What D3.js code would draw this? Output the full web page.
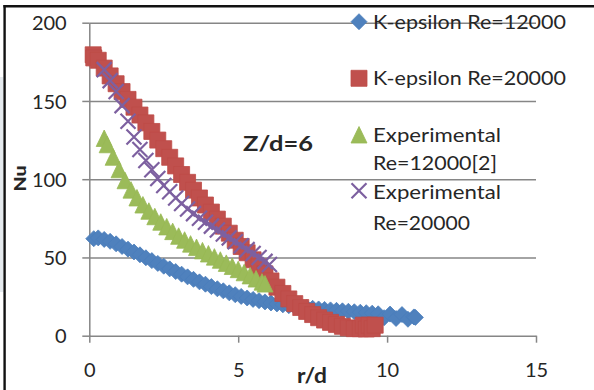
<!DOCTYPE html>
<html>
<head>
<meta charset="utf-8">
<script src="https://cdn.jsdelivr.net/npm/d3@7"></script>
<style>
  html, body { margin: 0; padding: 0; background: #fff; }
  svg { display: block; }
  text { font-family: Lato, "Open Sans", "Noto Sans", sans-serif; fill: #262626; }
</style>
</head>
<body>
<svg id="chart" width="594" height="390"></svg>
<script>
// ---- data: radial Nusselt number distributions, Z/d = 6 ----
const xTickValues = [0, 5, 10, 15];
const yTickValues = [0, 50, 100, 150, 200];
const xTitle = "r/d";
const yTitle = "Nu";
const noteText = "Z/d=6";

// K-epsilon, Re = 12000  [r/d, Nu]
const kEps12000 = [
  [0.15,62],[0.3,62.5],[0.5,61.5],[0.7,60.3],[0.9,58.7],[1.1,57],[1.3,55.3],[1.5,53.5],
  [1.7,51.7],[1.9,49.8],[2.1,48],[2.3,46.2],[2.5,44.4],[2.7,42.7],[2.9,41],[3.1,39.3],
  [3.3,37.6],[3.5,36],[3.7,34.4],[3.9,32.9],[4.1,31.4],[4.3,30],[4.5,28.7],[4.7,27.4],
  [4.9,26.2],[5.1,25.1],[5.3,24.1],[5.5,23.2],[5.7,22.4],[5.9,21.6],[6.1,20.9],[6.3,20.3],
  [6.5,19.7],[6.7,19.2],[6.9,18.7],[7.1,18.3],[7.3,17.9],[7.5,17.5],[7.7,17.1],[7.9,16.8],
  [8.1,16.5],[8.3,16.2],[8.5,15.9],[8.7,15.6],[8.9,15.3],[9.1,15],[9.3,14.7],[9.5,14.4],
  [9.7,14],[9.9,11.5],[10.1,13.8],[10.3,11],[10.5,13.5],[10.7,10.5],[10.9,12],[10.95,11.7]
];

// K-epsilon, Re = 20000
const kEps20000 = [
  [0.13,179.5],[0.15,177.5],[0.3,176],[0.5,171],[0.7,166],[0.9,161],[1.1,156],[1.3,151],
  [1.5,146],[1.7,141],[1.9,136],[2.1,130.5],[2.3,125],[2.5,119.5],[2.7,114],[2.9,108.5],
  [3.1,103],[3.3,98],[3.5,93],[3.7,88],[3.9,83.5],[4.1,79],[4.3,74.5],[4.5,70],
  [4.7,65.5],[4.9,61],[5.1,57],[5.3,53],[5.5,48.5],[5.7,44],[5.9,39.5],[6.1,35],
  [6.3,31],[6.5,27],[6.7,23.5],[6.9,20.5],[7.1,18],[7.3,15.5],[7.5,13.5],[7.7,11.5],
  [7.9,10],[8.1,8.5],[8.3,7.2],[8.5,6],[8.7,5],[8.9,4.5],[9.1,4.5],[9.2,6.7],
  [9.3,4.3],[9.4,6.7],[9.5,4.5],[9.6,6.7]
];

// Experimental, Re = 12000 [2]
const exp12000 = [
  [0.5,126],[0.6,122],[0.8,114],[1.0,106],[1.2,99],[1.4,93],[1.6,88],[1.8,83.5],
  [2.0,79.5],[2.2,76],[2.4,72.5],[2.6,69.5],[2.8,66.5],[3.0,63.5],[3.2,61],[3.4,58.5],
  [3.6,56.3],[3.8,54.2],[4.0,52.2],[4.2,50.2],[4.4,48.2],[4.6,46.2],[4.8,44.2],[5.0,42.2],
  [5.2,40.2],[5.4,38.2],[5.6,36.2],[5.8,34.2],[5.9,33]
];

// Experimental, Re = 20000
const exp20000 = [
  [0.5,170],[0.7,163],[0.9,156],[1.1,147],[1.3,137],[1.5,127],[1.7,119],[1.9,112],
  [2.1,106],[2.3,100.5],[2.5,96],[2.7,92],[2.9,88],[3.1,84.5],[3.3,81],[3.5,78],
  [3.7,75],[3.9,72.5],[4.1,70],[4.3,67.5],[4.5,65],[4.7,62.5],[4.9,60],[5.1,57.5],
  [5.3,55],[5.5,52.5],[5.7,50],[5.9,47.5],[6.05,45.5]
];

const seriesNames = [
  ["K-epsilon Re=12000"],
  ["K-epsilon Re=20000"],
  ["Experimental", "Re=12000[2]"],
  ["Experimental", "Re=20000"]
];

// ---- chart ----
const svg = d3.select("#chart");
const W = 594, H = 390;
const plot = { left: 89.3, right: 536, top: 22.7, bottom: 335.7 };

const x = d3.scaleLinear().domain([0, 15]).range([plot.left, plot.right]);
const y = d3.scaleLinear().domain([0, 200]).range([plot.bottom, plot.top]);

svg.append("rect").attr("width", W).attr("height", H).attr("fill", "#fff");

// faint strip outside the frame on the left
svg.append("rect").attr("x", 0).attr("y", 77).attr("width", 3.3).attr("height", 215)
  .attr("fill", "#e5eaee");

// frame (top and left edges)
svg.append("line").attr("x1", 4.6).attr("x2", 4.6).attr("y1", 5).attr("y2", H)
  .attr("stroke", "#111").attr("stroke-width", 2.4);
svg.append("line").attr("x1", 3.4).attr("x2", W).attr("y1", 6.2).attr("y2", 6.2)
  .attr("stroke", "#111").attr("stroke-width", 2.4);

const gridColor = "#868686";

// horizontal gridlines
svg.append("g")
  .attr("transform", `translate(${plot.left},0)`)
  .call(d3.axisLeft(y).tickValues(yTickValues.filter(v => v > 0))
    .tickSize(-(plot.right - plot.left)).tickFormat(""))
  .call(g => g.select(".domain").remove())
  .call(g => g.selectAll("line").attr("stroke", gridColor).attr("stroke-width", 1.5));

// y axis
const yAxis = svg.append("g")
  .attr("transform", `translate(${plot.left},0)`)
  .call(d3.axisLeft(y).tickValues(yTickValues).tickSize(7).tickPadding(15.6).tickSizeOuter(0));
yAxis.select(".domain").attr("stroke", gridColor).attr("stroke-width", 1.5);
yAxis.selectAll(".tick line").attr("stroke", gridColor).attr("stroke-width", 1.5);
yAxis.selectAll(".tick text")
  .attr("font-size", 20).attr("fill", "#262626")
  .attr("font-family", "Lato, 'Open Sans', sans-serif")
  .attr("dy", "0.36em");

// x axis
const xAxis = svg.append("g")
  .attr("transform", `translate(0,${plot.bottom})`)
  .call(d3.axisBottom(x).tickValues(xTickValues).tickSize(7).tickPadding(10).tickSizeOuter(0));
xAxis.select(".domain").attr("stroke", gridColor).attr("stroke-width", 1.5);
xAxis.selectAll(".tick line").attr("stroke", gridColor).attr("stroke-width", 1.5);
xAxis.selectAll(".tick text")
  .attr("font-size", 20).attr("fill", "#262626")
  .attr("font-family", "Lato, 'Open Sans', sans-serif")
  .attr("y", 41).attr("dy", 0);

// marker shapes
const markers = [
  { fill: "#4F81BD", stroke: "#4A7EBB", path: "M0,-8L8,0L0,8L-8,0Z" },
  { fill: "#C0504D", stroke: "#BE4B48", path: "M-8,-8H8V8H-8Z" },
  { fill: "#9BBB59", stroke: "#98B954", path: "M0,-8.5L8,8L-8,8Z" },
  { fill: "none", stroke: "#7D60A0", path: "M-7.5,-7.5L7.5,7.5M-7.5,7.5L7.5,-7.5" }
];
const allSeries = [kEps12000, kEps20000, exp12000, exp20000];

allSeries.forEach((data, i) => {
  const m = markers[i];
  svg.append("g").selectAll("path")
    .data(data)
    .join("path")
    .attr("transform", d => `translate(${x(d[0])},${y(d[1])})`)
    .attr("d", m.path)
    .attr("fill", m.fill)
    .attr("stroke", m.stroke)
    .attr("stroke-width", i === 3 ? 2.2 : 0.8);
});

// legend
const legendX = 359, legendTextX = 373;
const legendRows = [
  { cy: 21.7, baselines: [29.3], widths: [193] },
  { cy: 78.3, baselines: [85.3], widths: [193] },
  { cy: 135, baselines: [141.7, 170], widths: [128, 124] },
  { cy: 190.8, baselines: [198.5, 229.8], widths: [128, 97] }
];
legendRows.forEach((row, i) => {
  const m = markers[i];
  svg.append("path")
    .attr("transform", `translate(${legendX},${row.cy})`)
    .attr("d", m.path)
    .attr("fill", m.fill).attr("stroke", m.stroke)
    .attr("stroke-width", i === 3 ? 2.2 : 0.8);
  seriesNames[i].forEach((line, j) => {
    svg.append("text")
      .attr("x", legendTextX).attr("y", row.baselines[j])
      .attr("font-size", 20)
      .attr("textLength", row.widths[j]).attr("lengthAdjust", "spacingAndGlyphs")
      .text(line);
  });
});

// annotation
svg.append("text")
  .attr("x", 243).attr("y", 150.5)
  .attr("font-size", 21).attr("font-weight", "bold")
  .attr("textLength", 70).attr("lengthAdjust", "spacingAndGlyphs")
  .text(noteText);

// axis titles
svg.append("text")
  .attr("x", 297).attr("y", 382.5)
  .attr("font-size", 21).attr("font-weight", "bold")
  .attr("textLength", 30).attr("lengthAdjust", "spacingAndGlyphs")
  .text(xTitle);

svg.append("text")
  .attr("transform", "translate(26,178.5) rotate(-90)")
  .attr("text-anchor", "middle")
  .attr("font-size", 17).attr("font-weight", "900")
  .attr("textLength", 26).attr("lengthAdjust", "spacingAndGlyphs")
  .text(yTitle);
</script>
</body>
</html>
